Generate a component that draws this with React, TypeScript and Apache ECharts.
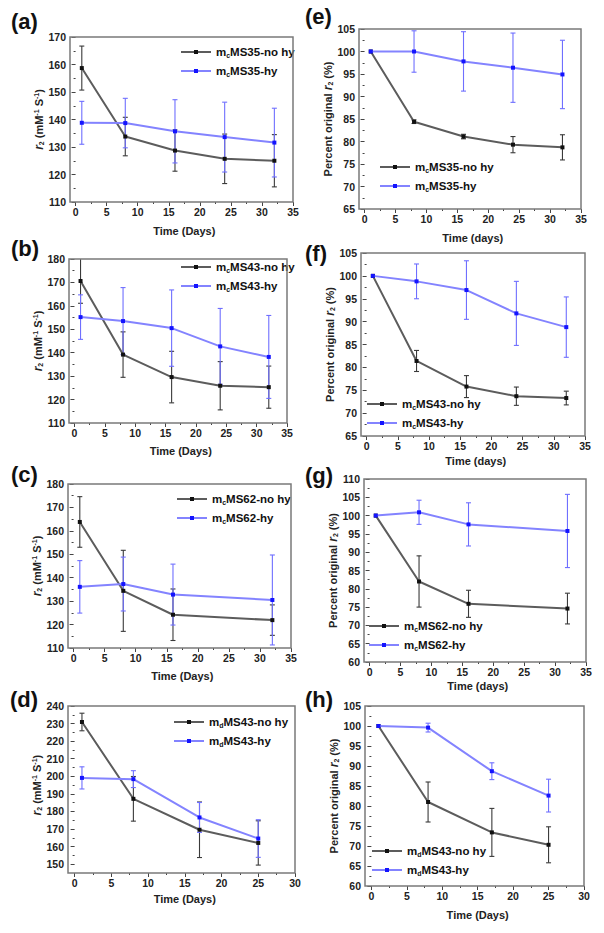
import React, { useEffect, useRef } from "react";
import * as echarts from "echarts";

// ---------- data ----------
const daysABC = [1, 8, 16, 24, 32];
const daysC = [1, 8, 16, 32];
const daysD = [1, 8, 17, 25];

// (a) mcMS35 relaxivity
const aNoHy = [158.7, 133.8, 128.7, 125.7, 125.0];
const aNoHyErr = [8, 7, 7.5, 9, 9.5];
const aHy = [138.8, 138.7, 135.7, 133.6, 131.6];
const aHyErr = [7.8, 9, 11.5, 12.7, 12.5];
// (b) mcMS43 relaxivity
const bNoHy = [170.6, 139.2, 129.6, 125.9, 125.3];
const bNoHyErr = [9.5, 9.7, 11, 10.3, 9];
const bHy = [155.2, 153.5, 150.5, 142.7, 138.2];
const bHyErr = [9.5, 14.3, 16.3, 16.2, 17.7];
// (c) mcMS62 relaxivity
const cNoHy = [163.8, 134.4, 124.2, 121.9];
const cNoHyErr = [10.8, 17.3, 11, 6.5];
const cHy = [136.1, 137.3, 132.8, 130.5];
const cHyErr = [11.2, 11.5, 13, 19.2];
// (d) mdMS43 relaxivity
const dNoHy = [230.9, 187.2, 169.6, 162.1];
const dNoHyErr = [5, 12.7, 15.8, 12.6];
const dHy = [199.1, 198.4, 176.6, 164.6];
const dHyErr = [6.3, 4.8, 8.5, 10.7];
// (e) mcMS35 percent
const eNoHy = [100, 84.4, 81.1, 79.3, 78.7];
const eNoHyErr = [0, 0.4, 0.5, 1.8, 2.8];
const eHy = [100, 100, 97.8, 96.4, 94.9];
const eHyErr = [0, 4.6, 6.6, 7.7, 7.6];
// (f) mcMS43 percent
const fNoHy = [100, 81.4, 75.8, 73.7, 73.3];
const fNoHyErr = [0, 2.3, 2.4, 2.0, 1.5];
const fHy = [100, 98.8, 96.9, 91.8, 88.8];
const fHyErr = [0, 3.8, 6.4, 7, 6.6];
// (g) mcMS62 percent
const gNoHy = [100, 82, 75.9, 74.6];
const gNoHyErr = [0, 7, 3.7, 4.2];
const gHy = [100, 100.9, 97.6, 95.8];
const gHyErr = [0, 3.3, 5.9, 10];
// (h) mdMS43 percent
const hNoHy = [100, 81, 73.4, 70.3];
const hNoHyErr = [0, 5, 6, 4.5];
const hHy = [100, 99.6, 88.7, 82.6];
const hHyErr = [0, 1.1, 2.1, 4.1];

// axis ranges: [frameMin, niceMin, max, interval]
const yRangeA = [110, 110, 170, 10];
const yRangeB = [110, 110, 180, 10];
const yRangeC = [110, 110, 180, 10];
const yRangeD = [145, 150, 240, 10];
const yRangeE = [65, 65, 105, 5];
const yRangeF = [65, 65, 105, 5];
const yRangeG = [60, 60, 110, 5];
const yRangeH = [60, 60, 105, 5];
const xMaxLong = 35;
const xMaxShort = 30;
const xFrameMin = -0.9;

const xNameDaysCap = "Time (Days)";
const xNameDaysLow = "Time (days)";
const yNameR2 = "{i|r}{s|2}{t| (mM}{p|-1}{t| S}{p|-1}{t|)}";
const yNamePct = "{t|Percent original }{i|r}{s|2}{t| (%)}";

const legendA = ["{t|m}{s|c}{t|MS35-no hy}", "{t|m}{s|c}{t|MS35-hy}"];
const legendB = ["{t|m}{s|c}{t|MS43-no hy}", "{t|m}{s|c}{t|MS43-hy}"];
const legendC = ["{t|m}{s|c}{t|MS62-no hy}", "{t|m}{s|c}{t|MS62-hy}"];
const legendD = ["{t|m}{s|d}{t|MS43-no hy}", "{t|m}{s|d}{t|MS43-hy}"];

// ---------- layout ----------
type Panel = {
  tag: string;
  days: number[];
  noHy: number[];
  noHyErr: number[];
  hy: number[];
  hyErr: number[];
  legend: string[];
  yRange: number[];
  xMax: number;
  xName: string;
  yName: string;
  frame: { l: number; t: number; r: number; b: number };
  xGap: number;
  legendPos: { left: number; top: number };
  tagPos: { x: number; y: number };
};

const panels: Panel[] = [
  { tag: "(a)", days: daysABC, noHy: aNoHy, noHyErr: aNoHyErr, hy: aHy, hyErr: aHyErr, legend: legendA, yRange: yRangeA, xMax: xMaxLong, xName: xNameDaysCap, yName: yNameR2, frame: { l: 70, t: 37, r: 293, b: 202 }, xGap: 23, legendPos: { left: 180, top: 46 }, tagPos: { x: 11, y: 10 } },
  { tag: "(b)", days: daysABC, noHy: bNoHy, noHyErr: bNoHyErr, hy: bHy, hyErr: bHyErr, legend: legendB, yRange: yRangeB, xMax: xMaxLong, xName: xNameDaysCap, yName: yNameR2, frame: { l: 69, t: 259, r: 287, b: 423 }, xGap: 22, legendPos: { left: 180, top: 261 }, tagPos: { x: 11, y: 237 } },
  { tag: "(c)", days: daysC, noHy: cNoHy, noHyErr: cNoHyErr, hy: cHy, hyErr: cHyErr, legend: legendC, yRange: yRangeC, xMax: xMaxLong, xName: xNameDaysCap, yName: yNameR2, frame: { l: 68, t: 484, r: 291, b: 648 }, xGap: 22, legendPos: { left: 176, top: 493 }, tagPos: { x: 11, y: 463 } },
  { tag: "(d)", days: daysD, noHy: dNoHy, noHyErr: dNoHyErr, hy: dHy, hyErr: dHyErr, legend: legendD, yRange: yRangeD, xMax: xMaxShort, xName: xNameDaysCap, yName: yNameR2, frame: { l: 68, t: 706, r: 295, b: 873 }, xGap: 20, legendPos: { left: 173, top: 716 }, tagPos: { x: 10, y: 688 } },
  { tag: "(e)", days: daysABC, noHy: eNoHy, noHyErr: eNoHyErr, hy: eHy, hyErr: eHyErr, legend: legendA, yRange: yRangeE, xMax: xMaxLong, xName: xNameDaysLow, yName: yNamePct, frame: { l: 359, t: 29, r: 581, b: 209 }, xGap: 23, legendPos: { left: 379, top: 161 }, tagPos: { x: 305, y: 5 } },
  { tag: "(f)", days: daysABC, noHy: fNoHy, noHyErr: fNoHyErr, hy: fHy, hyErr: fHyErr, legend: legendB, yRange: yRangeF, xMax: xMaxLong, xName: xNameDaysLow, yName: yNamePct, frame: { l: 361, t: 253, r: 585, b: 436 }, xGap: 19, legendPos: { left: 366, top: 398 }, tagPos: { x: 305, y: 242 } },
  { tag: "(g)", days: daysC, noHy: gNoHy, noHyErr: gNoHyErr, hy: gHy, hyErr: gHyErr, legend: legendC, yRange: yRangeG, xMax: xMaxLong, xName: xNameDaysLow, yName: yNamePct, frame: { l: 364, t: 479, r: 586, b: 662 }, xGap: 18, legendPos: { left: 368, top: 620 }, tagPos: { x: 305, y: 464 } },
  { tag: "(h)", days: daysD, noHy: hNoHy, noHyErr: hNoHyErr, hy: hHy, hyErr: hHyErr, legend: legendD, yRange: yRangeH, xMax: xMaxShort, xName: xNameDaysCap, yName: yNamePct, frame: { l: 365, t: 706, r: 584, b: 886 }, xGap: 23, legendPos: { left: 371, top: 845 }, tagPos: { x: 305, y: 688 } },
];

const FONT = "'Liberation Sans', Arial, Helvetica, sans-serif";
const BLACK_LINE = "#5c5c5c";
const BLACK_MARK = "#111111";
const BLACK_ERR = "#3a3a3a";
const BLUE_LINE = "#8383ff";
const BLUE_MARK = "#1414ff";
const BLUE_ERR = "#6f6fff";

const nameRich = {
  t: { fontSize: 11, fontWeight: "bold", color: "#222", fontFamily: FONT },
  i: { fontSize: 12, fontWeight: "bold", fontStyle: "italic", color: "#222", fontFamily: FONT },
  s: { fontSize: 7, fontWeight: "bold", color: "#222", fontFamily: FONT, verticalAlign: "bottom", lineHeight: 8 },
  p: { fontSize: 7, fontWeight: "bold", color: "#222", fontFamily: FONT, verticalAlign: "top", lineHeight: 8 },
};

const legendRich = {
  t: { fontSize: 11.5, fontWeight: "bold", color: "#111", fontFamily: FONT, lineHeight: 14, verticalAlign: "middle" },
  s: { fontSize: 7, fontWeight: "bold", color: "#111", fontFamily: FONT, lineHeight: 7, verticalAlign: "bottom" },
};

function errRender(params: any, api: any) {
  const x = api.value(0);
  const lo = api.value(1);
  const hi = api.value(2);
  if (!(hi > lo)) return { type: "group", children: [] };
  const pHi = api.coord([x, hi]);
  const pLo = api.coord([x, lo]);
  const top = params.coordSys.y;
  const yTop = Math.max(pHi[1], top);
  const color = api.visual("color");
  const st = { stroke: color, lineWidth: 1.1 };
  const children: any[] = [
    { type: "line", shape: { x1: pHi[0], y1: yTop, x2: pLo[0], y2: pLo[1] }, style: st },
    { type: "line", shape: { x1: pLo[0] - 2.5, y1: pLo[1], x2: pLo[0] + 2.5, y2: pLo[1] }, style: st },
  ];
  if (pHi[1] >= top) {
    children.push({ type: "line", shape: { x1: pHi[0] - 2.5, y1: pHi[1], x2: pHi[0] + 2.5, y2: pHi[1] }, style: st });
  }
  return { type: "group", children };
}

function buildOption() {
  const grid: any[] = [];
  const xAxis: any[] = [];
  const yAxis: any[] = [];
  const series: any[] = [];
  const legend: any[] = [];
  const graphic: any[] = [];

  panels.forEach((p, i) => {
    const { l, t, r, b } = p.frame;
    const [yFrameMin, yNiceMin, yMax, yInt] = p.yRange;
    const x0px = l + ((0 - xFrameMin) / (p.xMax - xFrameMin)) * (r - l);
    const yNicePx = b - ((yNiceMin - yFrameMin) / (yMax - yFrameMin)) * (b - t);
    grid.push({ left: x0px, top: t, width: r - x0px, height: yNicePx - t, show: false });

    const tickStyle = { color: "#444", width: 1 };
    const labelStyle = { fontSize: 10.5, fontWeight: "bold", color: "#222", fontFamily: FONT, margin: 4, showMaxLabel: true, showMinLabel: true };
    xAxis.push({
      gridIndex: i,
      type: "value",
      min: 0,
      max: p.xMax,
      interval: 5,
      offset: b - yNicePx,
      axisLine: { show: false },
      axisTick: { show: true, length: 4, lineStyle: tickStyle },
      minorTick: { show: true, splitNumber: 2, length: 2, lineStyle: tickStyle },
      splitLine: { show: false },
      minorSplitLine: { show: false },
      axisLabel: labelStyle,
      name: p.xName,
      nameLocation: "middle",
      nameGap: p.xGap,
      nameTextStyle: { fontSize: 11, fontWeight: "bold", color: "#222", fontFamily: FONT },
    });
    yAxis.push({
      gridIndex: i,
      type: "value",
      min: yNiceMin,
      max: yMax,
      interval: yInt,
      offset: x0px - l,
      axisLine: { show: false },
      axisTick: { show: true, length: 4, lineStyle: tickStyle },
      minorTick: { show: true, splitNumber: 2, length: 2, lineStyle: tickStyle },
      splitLine: { show: false },
      minorSplitLine: { show: false },
      axisLabel: labelStyle,
      name: p.yName,
      nameLocation: "middle",
      nameGap: 25,
      nameTextStyle: { rich: nameRich },
    });

    const nNo = `${p.tag}-nohy`;
    const nHy = `${p.tag}-hy`;
    const labelMap: Record<string, string> = { [nNo]: p.legend[0], [nHy]: p.legend[1] };

    series.push({
      type: "custom",
      name: `${p.tag}-err-nohy`,
      xAxisIndex: i,
      yAxisIndex: i,
      renderItem: errRender,
      itemStyle: { color: BLACK_ERR },
      data: p.days.map((d, k) => [d, p.noHy[k] - p.noHyErr[k], p.noHy[k] + p.noHyErr[k]]),
      encode: { x: 0, y: [1, 2] },
      z: 1,
      silent: true,
    });
    series.push({
      type: "custom",
      name: `${p.tag}-err-hy`,
      xAxisIndex: i,
      yAxisIndex: i,
      renderItem: errRender,
      itemStyle: { color: BLUE_ERR },
      data: p.days.map((d, k) => [d, p.hy[k] - p.hyErr[k], p.hy[k] + p.hyErr[k]]),
      encode: { x: 0, y: [1, 2] },
      z: 1,
      silent: true,
    });
    series.push({
      type: "line",
      name: nNo,
      xAxisIndex: i,
      yAxisIndex: i,
      data: p.days.map((d, k) => [d, p.noHy[k]]),
      symbol: "rect",
      symbolSize: 4,
      lineStyle: { color: BLACK_LINE, width: 2 },
      itemStyle: { color: BLACK_MARK },
      z: 3,
    });
    series.push({
      type: "line",
      name: nHy,
      xAxisIndex: i,
      yAxisIndex: i,
      data: p.days.map((d, k) => [d, p.hy[k]]),
      symbol: "rect",
      symbolSize: 4,
      lineStyle: { color: BLUE_LINE, width: 2 },
      itemStyle: { color: BLUE_MARK },
      z: 4,
    });

    legend.push({
      data: [nNo, nHy],
      orient: "vertical",
      left: p.legendPos.left,
      top: p.legendPos.top,
      padding: 0,
      itemGap: 6,
      itemWidth: 30,
      itemHeight: 5,
      selectedMode: false,
      formatter: (n: string) => labelMap[n],
      textStyle: { rich: legendRich },
    });

    graphic.push({
      type: "rect",
      silent: true,
      z: 10,
      shape: { x: l, y: t, width: r - l, height: b - t },
      style: { fill: "none", stroke: "#7a7a7a", lineWidth: 1.5 },
    });
    graphic.push({
      type: "text",
      silent: true,
      x: p.tagPos.x,
      y: p.tagPos.y,
      style: { text: p.tag, fontSize: 22, fontWeight: "bold", fontFamily: FONT, fill: "#111" },
    });
  });

  return {
    animation: false,
    backgroundColor: "#ffffff",
    grid,
    xAxis,
    yAxis,
    series,
    legend,
    graphic,
  };
}

export default function App() {
  const ref = useRef<HTMLDivElement>(null);
  useEffect(() => {
    if (!ref.current) return;
    const chart = echarts.init(ref.current, undefined, { renderer: "svg" });
    chart.setOption(buildOption() as any);
    return () => chart.dispose();
  }, []);
  return (
    <div
      ref={ref}
      style={{ position: "absolute", left: 0, top: 0, width: 604, height: 933, background: "#fff" }}
    />
  );
}
